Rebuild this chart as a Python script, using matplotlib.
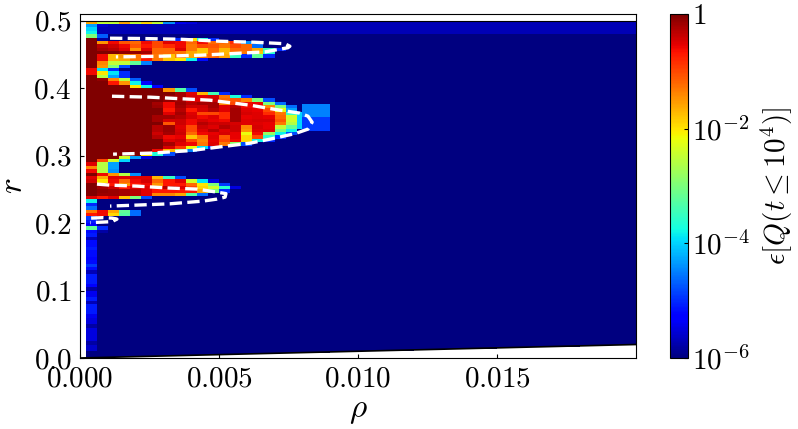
import numpy as np
import matplotlib
matplotlib.use('Agg')
import matplotlib.pyplot as plt
from matplotlib.colors import LogNorm

plt.rcParams['mathtext.fontset'] = 'cm'
plt.rcParams['font.family'] = 'serif'
plt.rcParams['font.serif'] = ['cmr10', 'DejaVu Serif']
plt.rcParams['axes.unicode_minus'] = False

# grid of the scan
rho_fine = [0.0002 + 0.0004*k for k in range(20)]
rho_coarse = [0.0080, 0.0090, 0.0100, 0.0110, 0.0120, 0.0130, 0.0140, 0.0150, 0.0160, 0.0170, 0.0180, 0.0190, 0.0200]
r_step = 0.005

# log10(epsilon), one list per r row from the top, rest of the row is background
rows_top = [
    [-1.6, -2.5, -2.5, -1.6, -2.5, -1.9, -2.5, -4.4, -5.4, -5.5],
    [-4.3, -5.6],
    [-4.0, -5.7],
    [-3.8, -5.7],
    [-3.0, -4.7, -6],
    [0, -5.8, -6, -6, -6, -6, -6, -6, -5.0, -2.0, -3.7, -5.0],
    [0, -1.5, -.6, -1.1, -1.2, -.6, -1.0, -.5, -.6, -1.2, -.6, -1.2, -1.2, -.8, -4.4],
    [0, -.3, -.4, -.6, -1.1, -.7, -1.0, -.8, -.6, -1.3, -1.0, -1.1, -1.3, -1.0, -1.2, -4.6],
    [0, -.2, -.3, -.5, -1.5, -.5, -1.2, -1.2, -.5, -1.3, -1.8, -1.2, -1.7, -1.2, -1.2, -1.6, -3.4, -5.0],
    [0, 0, 0, -.1, -.1, -.2, -1.2, -1.2, -1.3, -1.6, -1.8, -1.2, -1.7, -1.3, -1.3, -1.8, -3.6],
    [0, -.6, -1.7, -1.5, -1.3, -.7, -1.3, -1.8, -1.3, -1.6, -1.3, -1.2, -1.6, -3.5, -5.0, -3.2, -5.0],
    [0, -.6, -1.7, -1.6, -1.3, -.7, -1.3, -1.8, -2.0, -3.8, -5.2],
    [0, -1.4, -2.5, -2.5, -3.2, -4.5],
    [0, -1.5, -3.0, -4.8],
    [-.6, -3.9, -5.0],
    [-.6, -2.0, -3.9, -5.0],
    [0, -2.6, -4.3, -5.0],
    [0, -.1, -1.4, -2.6, -4.7],
    [0, 0, -.7, -1.5, -3.8, -5.3],
    [0, 0, 0, 0, -2.0, -3.8, -5.3],
    [0, 0, 0, 0, 0, 0, 0, -1.5, -3.3, -4.8],
]
rows_mid = [
    [0, 0, 0, 0, 0, 0, 0, 0, -.2, -.5, -1.7, -3.4, -5.0],
    [0, 0, 0, 0, 0, 0, 0, -.1, -.2, -.45, -.5, -.45, -1.3, -3.7, -5.0],
    [0, 0, 0, 0, 0, 0, 0, -.1, -.2, -.5, -.5, -.4, -1.2, -1.1, -1.4, -3.0, -4.8],
    [0, 0, 0, 0, 0, 0, -.2, -.6, -.15, -.3, -.2, -.2, -1.4, -1.0, -.6, -.55, -3.0, -4.6],
    [0, 0, 0, 0, 0, 0, -.15, -.6, -.2, -.4, -.4, -.2, -.5, -.3, -.6, -.55, -1.4, -3.0, -4.6],
    [0, 0, 0, 0, 0, 0, 0, -.7, -.3, -.7, -.45, -.3, -.5, -.2, -.5, -.55, -1.0, -2.2, -4.3],
    [0, 0, 0, 0, 0, 0, 0, -.5, -.2, -.5, -1.0, -1.0, -.8, -.2, -.45, -.5, -.8, -1.3, -3.5, -4.0],
    [0, 0, 0, 0, 0, 0, -.2, -.2, -.3, -.45, -.6, -.5, -.8, -.2, -.55, -.5, -.55, -1.2, -2.4, -4.0],
    [0, 0, 0, 0, 0, 0, -.2, -.45, -.4, -.6, -.45, -.55, -.6, -.2, -.5, -.45, -.45, -1.1, -2.4, -4.0],
    [0, 0, 0, 0, 0, 0, 0, -1.1, -.4, -.6, -.3, -.4, -.4, -.45, -.5, -.5, -.55, -1.3, -2.6, -4.0],
    [0, 0, 0, 0, 0, 0, -.3, -.15, -.5, -1.0, -.4, -.5, -.3, -.4, -1.4, -.45, -.55, -2.5, -3.2, -4.0],
    [0, 0, 0, 0, 0, 0, -.3, -.15, -.45, -1.0, -.5, -.3, -.5, -.4, -1.5, -.5, -.5, -3.0, -3.8],
    [0, 0, 0, 0, 0, 0, -.4, -.2, -.4, -1.2, -.6, -.55, -.45, -.55, -2.2, -.6, -2.8, -3.8, -4.8],
    [0, 0, 0, 0, 0, 0, -.3, -.6, -.55, -1.8, -1.3, -.5, -1.1, -.55, -1.9, -1.0, -3.6, -5.0],
    [0, 0, 0, 0, 0, 0, 0, -.5, -.4, -1.0, -1.4, -.55, -1.0, -.6, -1.9, -3.8, -5.0],
    [0, 0, 0, 0, 0, 0, 0, -.2, -.5, -.6, -1.3, -.5, -1.3, -2.9, -4.8],
    [0, 0, 0, 0, 0, 0, 0, -.45, -.9, -2.2, -3.9, -5.0],
    [0, 0, 0, 0, 0, 0, -.6, -1.7, -2.8, -4.5],
    [0, 0, 0, 0, 0, -2.0, -3.7, -4.8],
    [0, 0, 0, -2.4, -4.3, -5.5],
    [0, -1.0, -2.4, -4.0],
    [-.5, -2.6, -4.3],
    [-1.4, -2.6, -4.3],
    [-.6, -2.6, -4.4],
]
rows_low = [
    [0, -.6, -1.5, -2.6, -4.4],
    [-.5, -1.6, -.5, -.5, -.5, -.5, -1.7, -3.5, -4.8],
    [-.4, -2.0, -.6, -1.2, -.6, -.45, -1.2, -.7, -.5, -2.4, -3.9, -5.5],
    [0, -.5, -.7, -1.5, -.7, -.6, -1.5, -.7, -.7, -1.2, -2.0, -3.0, -4.9],
    [0, -.2, -.4, -.7, -.5, -.5, -.7, -.3, -.5, -1.0, -1.9, -2.4, -3.6, -5.5],
    [0, -.1, -.15, -.2, -.3, -.5, -.7, -.7, -.7, -.7, -1.6, -3.0, -5.0],
    [0, -.15, -.15, -.2, -.3, -.5, -1.4, -1.4, -1.6, -3.3, -4.6],
    [-.5, -.7, -.5, -1.8, -3.0, -4.8],
    [-3.8],
    [-5.0],
    [-4.6],
    [-1.3, -.6, -1.6, -3.2, -4.6],
    [-.7, -.6, -1.9, -3.3, -4.6],
    [-4.9],
    [-5.1],
    [-5.3],
    [-3.2, -5.0],
    [-5.2, -5.8],
    [-5.1],
]
# first column only, below the lobes
col0_tail = [-5.7, -5.2, -5.2, -5.1, -5.2, -5.2, -5.3, -5.2, -4.9, -5.2, -5.7, -5.1, -5.1, -5.1, -5.3, -5.8, -5.4,
             -5.4, -5.1, -5.7, -5.1, -5.1, -5.1, -5.4, -5.5, -5.5, -5.8, -5.5, -5.5, -5.5, -5.5, -5.8, -5.6, -5.6, -6, -6]
n_bright_rows = 4
fill_bright = -5.7
fill_dark = -6.0

# the one coarse block right of the middle lobe
box_rho = [0.008, 0.009]
box_r = [0.337, 0.357, 0.377]
box_val = [-4.9, -4.5]

# dashed boundary
curve1_rho = [.00108, .00216, .00360, .00504, .00629, .00701, .00737, .00755, .00748, .00665, .00576, .00432, .00288, .00129]
curve1_r = [.4741, .4737, .4726, .4696, .4681, .4667, .4659, .4622, .4600, .4538, .4519, .4489, .4474, .4464]
curve2_rho = [.00115, .00180, .00252, .00324, .00396, .00468, .00612, .00719, .00791, .00820, .00835, .00820, .00773, .00683, .00612, .00504, .00396, .00252, .00119]
curve2_r = [.3881, .3874, .3867, .3852, .3837, .3822, .3748, .3674, .3630, .3585, .3496, .3393, .3326, .3244, .3185, .3130, .3074, .3037, .3022]
curve3_rho = [.00061, .00108, .00205, .00324, .00421, .00493, .00525, .00522, .00493, .00442, .00324, .00205, .00108]
curve3_r = [.2578, .2563, .2548, .2519, .2504, .2459, .2437, .2385, .2356, .2326, .2286, .2267, .2252]
curve4_rho = [.00040, .00083, .00115, .00133, .00115, .00083, .00036]
curve4_r = [.2074, .2081, .2074, .2059, .2022, .2015, .2007]

xticks = [0.0, 0.005, 0.010, 0.015]
xticklabels = ['$0.000$', '$0.005$', '$0.010$', '$0.015$']
yticks = [0.0, 0.1, 0.2, 0.3, 0.4, 0.5]
yticklabels = ['$0.0$', '$0.1$', '$0.2$', '$0.3$', '$0.4$', '$0.5$']
cticks = [1e-6, 1e-4, 1e-2, 1]
cticklabels = ['$10^{-6}$', '$10^{-4}$', '$10^{-2}$', '$1$']

rho_edges = np.array(rho_fine + rho_coarse)
r_edges = np.array([0.5 - r_step*k for k in range(101)])
r_edges[-1] = 0.0

Z = np.full((100, len(rho_edges)-1), fill_dark)
Z[:n_bright_rows] = fill_bright
for i, row in enumerate(rows_top + rows_mid + rows_low + [[v] for v in col0_tail]):
    Z[i, :len(row)] = row

X, R = np.meshgrid(rho_edges, r_edges)
# scan only covers r >= rho
Y = np.maximum(R, X)

fig = plt.figure(figsize=(7.98, 4.29), dpi=100)
W, H = 798., 429.
ax = fig.add_axes([80/W, 1-358/H, 556/W, 344/H])
cax = fig.add_axes([670/W, 1-358/H, 18/W, 344/H])

norm = LogNorm(vmin=1e-6, vmax=1)
pc = ax.pcolormesh(X, Y, 10.0**Z, cmap='jet', norm=norm, shading='flat', antialiased=False)
ax.pcolormesh(box_rho, box_r, 10.0**np.array(box_val).reshape(2, 1), cmap='jet', norm=norm, shading='flat')

line_rho = [0.0, 0.02]
ax.plot(line_rho, line_rho, color='k', lw=1.2)
ax.plot(line_rho, [0.5, 0.5], color='k', lw=0.8)

for cx, cy in [(curve1_rho, curve1_r), (curve2_rho, curve2_r), (curve3_rho, curve3_r), (curve4_rho, curve4_r)]:
    ax.plot(cx, cy, color='w', lw=2.4, ls='--')

ax.set_xlim(0, 0.02)
ax.set_ylim(0, 0.51)
ax.set_xticks(xticks)
ax.set_xticklabels(xticklabels)
ax.set_yticks(yticks)
ax.set_yticklabels(yticklabels)
ax.tick_params(direction='in', length=3, width=0.8, labelsize=21, pad=6)
ax.set_xlabel(r'$\rho$', fontsize=24, labelpad=3)
ax.set_ylabel(r'$r$', fontsize=24, labelpad=4)

cb = fig.colorbar(pc, cax=cax)
cb.set_ticks(cticks)
cb.set_ticklabels(cticklabels)
cb.ax.minorticks_off()
cb.ax.tick_params(direction='in', length=3, width=0.8, labelsize=21, pad=3)
cb.set_label(r'$\epsilon[Q(t\leq 10^4)]$', fontsize=21, labelpad=6)

fig.savefig('out.png', dpi=100)
